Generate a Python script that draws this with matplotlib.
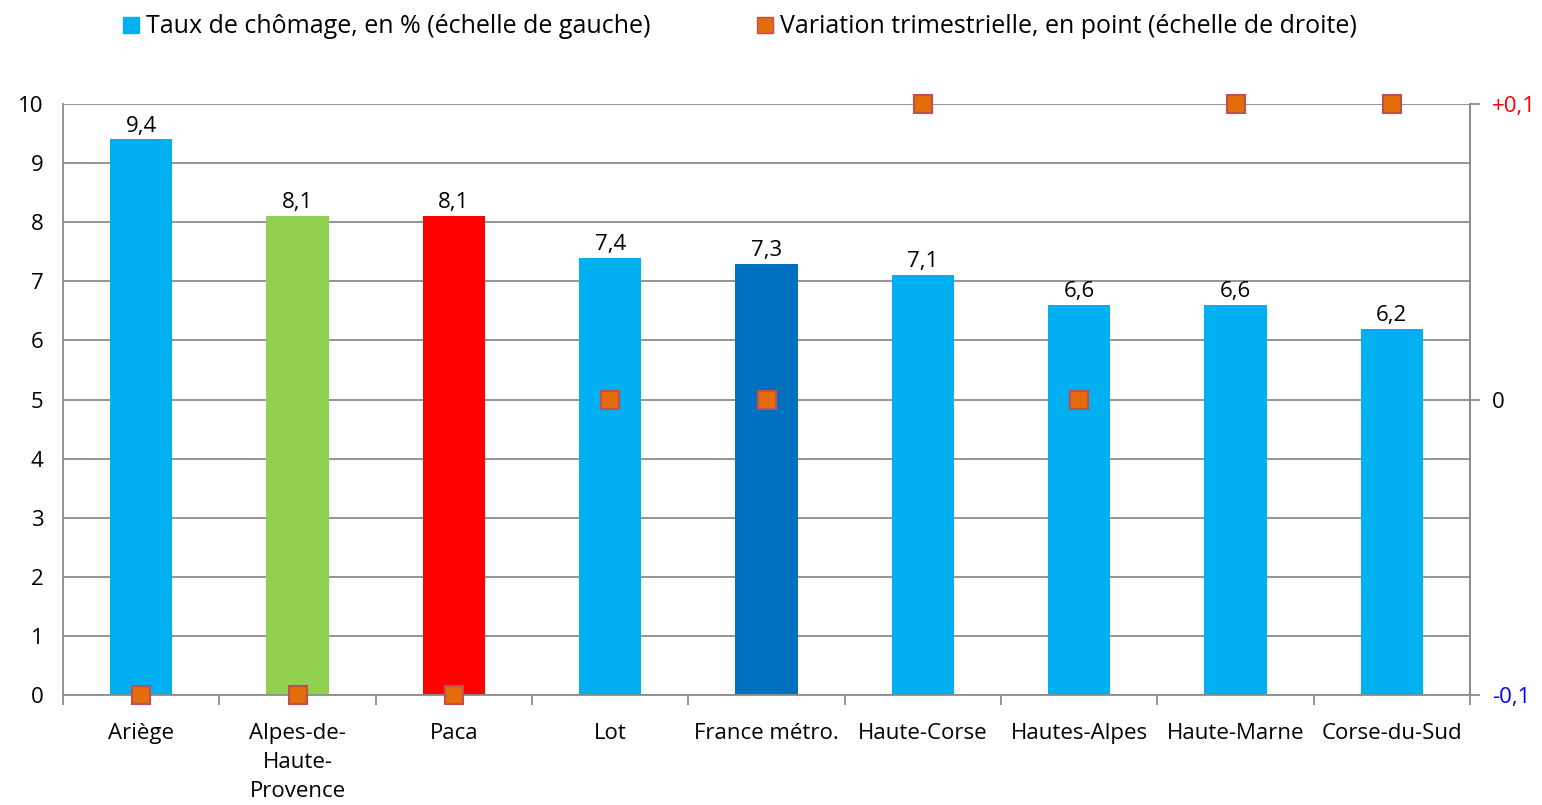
import numpy as np
import matplotlib.pyplot as plt
from matplotlib.lines import Line2D

plt.rcParams['font.family'] = ['Open Sans', 'DejaVu Sans']

# data
departements = ['Ariège', 'Alpes-de-\nHaute-\nProvence', 'Paca', 'Lot', 'France métro.',
                'Haute-Corse', 'Hautes-Alpes', 'Haute-Marne', 'Corse-du-Sud']
taux = [9.4, 8.1, 8.1, 7.4, 7.3, 7.1, 6.6, 6.6, 6.2]
variation = [-0.1, -0.1, -0.1, 0, 0, 0.1, 0, 0.1, 0.1]
bar_colors = ['#00B0F0', '#92D050', '#FF0000', '#00B0F0', '#0070C0',
              '#00B0F0', '#00B0F0', '#00B0F0', '#00B0F0']

fig = plt.figure(figsize=(15.42, 8.05), dpi=100)
ax = fig.add_axes([0.0409, 0.1366, 0.9124, 0.7342])
x = np.arange(len(departements))

ax.bar(x, taux, width=0.4, color=bar_colors, zorder=2)
for xi, v in zip(x, taux):
    ax.text(xi, v + 0.05, f'{v:.1f}'.replace('.', ','), ha='center', va='bottom', fontsize=16)

ax.set_xlim(-0.5, len(departements) - 0.5)
ax.set_ylim(0, 10)
ax.set_yticks(range(0, 11))
ax.yaxis.grid(True, color='#8c8c8c', linewidth=1.3, zorder=0)
ax.set_axisbelow(True)
ax.set_xticks(x)
ax.set_xticklabels(departements, fontsize=16, va='top', linespacing=1.5)
ax.tick_params(axis='x', length=0, pad=20)
ax.set_xticks(np.arange(-0.5, len(departements)), minor=True)
ax.tick_params(axis='x', which='minor', length=7, color='#8c8c8c', width=1.3)
ax.tick_params(axis='y', labelsize=16, length=0, pad=14)
ax.spines['top'].set_visible(False)
for s in ['left', 'bottom', 'right']:
    ax.spines[s].set_color('#8c8c8c')
    ax.spines[s].set_linewidth(1.3)

ax2 = ax.twinx()
ax2.plot(x, variation, linestyle='none', marker='s', markersize=13,
         markerfacecolor='#E46C0A', markeredgecolor='#C0504D', markeredgewidth=1.5,
         clip_on=False, zorder=5)
ax2.set_ylim(-0.1, 0.1)
ax2.set_yticks([-0.1, 0, 0.1])
ax2.set_yticklabels(['-0,1', '0', '+0,1'], fontsize=16)
ax2.tick_params(axis='y', length=7, color='#8c8c8c', width=1.3, pad=9)
for lab, c in zip(ax2.get_yticklabels(), ['#0000FF', 'black', '#FF0000']):
    lab.set_color(c)
for s in ['top', 'left', 'bottom']:
    ax2.spines[s].set_visible(False)
ax2.spines['right'].set_color('#8c8c8c')
ax2.spines['right'].set_linewidth(1.3)

handles = [Line2D([], [], linestyle='none', marker='s', markersize=11,
                  markerfacecolor='#00B0F0', markeredgecolor='#00B0F0'),
           Line2D([], [], linestyle='none', marker='s', markersize=11,
                  markerfacecolor='#E46C0A', markeredgecolor='#C0504D')]
fig.legend(handles, ['Taux de chômage, en % (échelle de gauche)',
                     'Variation trimestrielle, en point (échelle de droite)'],
           loc='upper left', bbox_to_anchor=(0.062, 1.01), ncol=2, frameon=False,
           fontsize=18, handletextpad=0.1, columnspacing=4.1, handlelength=1.0)

fig.savefig('out.png', dpi=100)
